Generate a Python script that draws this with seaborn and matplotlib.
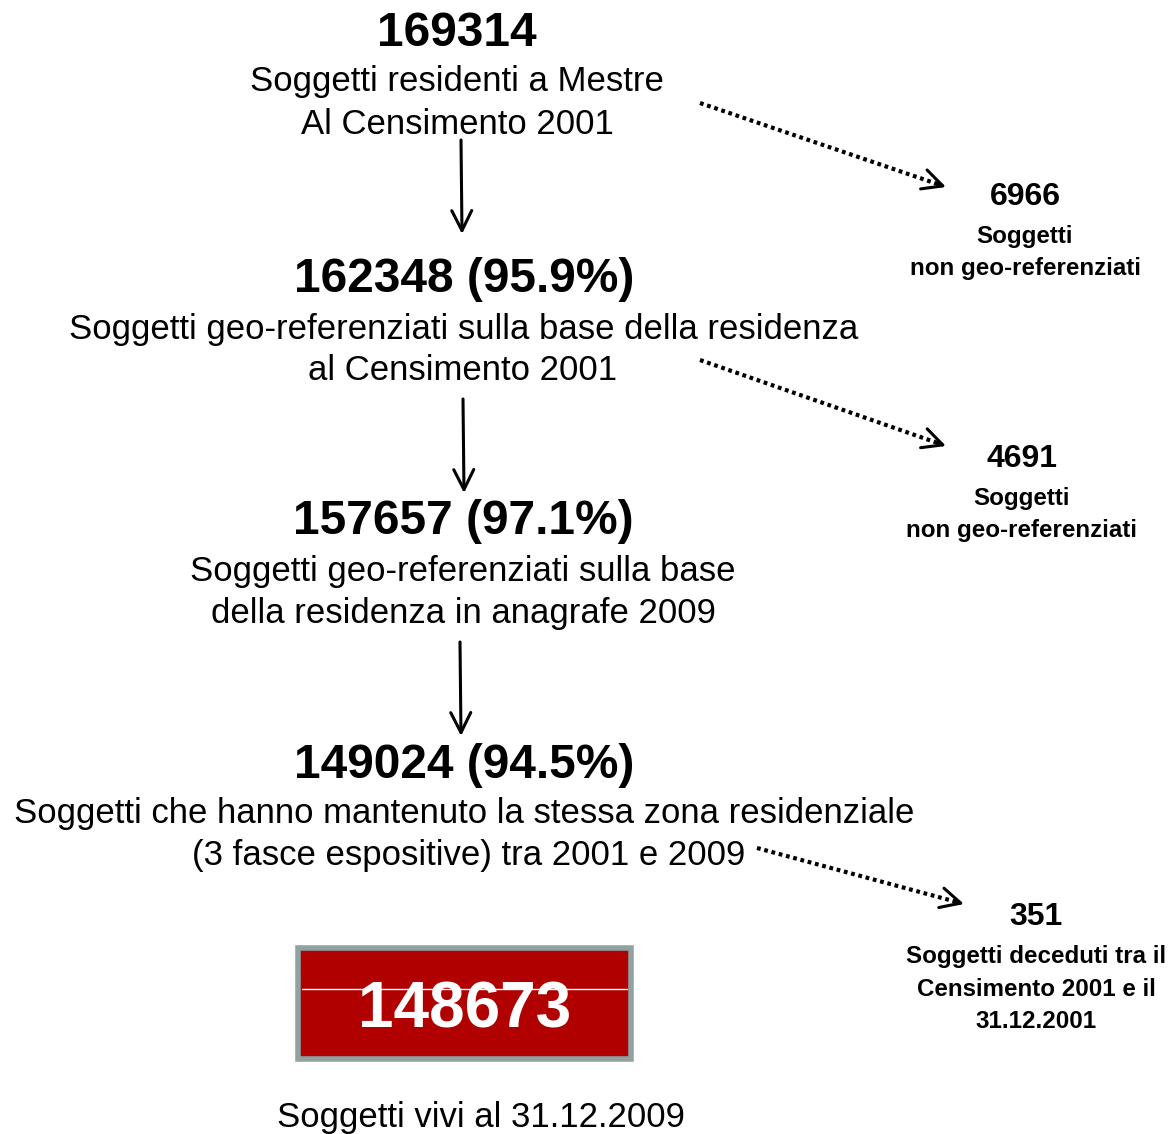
"""Flow diagram of the Mestre cohort selection."""
import matplotlib
matplotlib.use('Agg')
import matplotlib.pyplot as plt
from matplotlib.patches import Rectangle
import seaborn as sns

# steps of the selection
counts = [169314, 162348, 157657, 149024]
pcts = [None, 95.9, 97.1, 94.5]
step_lines = [
    ['Soggetti residenti a Mestre', 'Al Censimento 2001'],
    ['Soggetti geo-referenziati sulla base della residenza', 'al Censimento 2001'],
    ['Soggetti geo-referenziati sulla base', 'della residenza in anagrafe 2009'],
    ['Soggetti che hanno mantenuto la stessa zona residenziale',
     '(3 fasce espositive) tra 2001 e 2009'],
]
# excluded subjects on the right
excluded = [6966, 4691, 351]
excluded_lines = [
    ['Soggetti', 'non geo-referenziati'],
    ['Soggetti', 'non geo-referenziati'],
    ['Soggetti deceduti tra il', 'Censimento 2001 e il', '31.12.2001'],
]
final_count = 148673
final_label = 'Soggetti vivi al 31.12.2009'

sns.set_theme(style='white')
plt.rcParams['font.family'] = ['Liberation Sans', 'DejaVu Sans']

W, H = 1169, 1134
fig = plt.figure(figsize=(W / 100, H / 100), dpi=100)
ax = fig.add_axes([0, 0, 1, 1])
ax.set_xlim(0, W)
ax.set_ylim(H, 0)
ax.axis('off')

# layout (pixel positions)
step_x = [457, 464, 463, 464]
step_y = [33, 280, 522, 765]
line_x = [[457, 457], [464, 463], [463, 463], [464, 469]]
down_arrows = [((461, 140), (462, 234)), ((463, 399), (464, 493)),
               ((460, 642), (461, 736))]
exc_x = [1025, 1022, 1036]
exc_y = [197, 459, 917]
side_arrows = [((700, 103), (946, 187)), ((700, 360), (946, 446)),
               ((757, 848), (964, 904))]
head = dict(arrowstyle='->,head_length=1.2,head_width=0.6', lw=2.2,
            color='black', shrinkA=0, shrinkB=0)

for i, n in enumerate(counts):
    title = str(n) if pcts[i] is None else '%d (%.1f%%)' % (n, pcts[i])
    ax.text(step_x[i], step_y[i], title, ha='center', va='center',
            fontsize=34.5, fontweight='bold', color='black')
    for j, line in enumerate(step_lines[i]):
        ax.text(line_x[i][j], step_y[i] + 49 + 42 * j, line, ha='center',
                va='center', fontsize=25, color='black')

for (x0, y0), (x1, y1) in down_arrows:
    ax.annotate('', xy=(x1, y1), xytext=(x0, y0), arrowprops=head)

for (x0, y0), (x1, y1) in side_arrows:
    ax.plot([x0, x1 - 4], [y0, y1 - 1.4 * (y1 - y0) / (x1 - x0) * 3],
            color='black', lw=3, ls=(0, (0.9, 0.9)),
            dash_capstyle='butt')
    # solid open head at the end
    ax.annotate('', xy=(x1, y1),
                xytext=(x1 - (x1 - x0) * 0.04, y1 - (y1 - y0) * 0.04),
                arrowprops=head)

for i, n in enumerate(excluded):
    ax.text(exc_x[i], exc_y[i], str(n), ha='center', va='center',
            fontsize=23, fontweight='bold', color='black')
    for j, line in enumerate(excluded_lines[i]):
        ax.text(exc_x[i], exc_y[i] + 39 + 33 * j, line, ha='center',
                va='center', fontsize=17.4, fontweight='bold', color='black')

# final box
ax.add_patch(Rectangle((298, 948), 333, 111, facecolor='#b00000',
                       edgecolor='#8fa3a3', lw=4))
ax.plot([302, 627], [989, 989], color='white', lw=1)
ax.text(465, 1010, str(final_count), ha='center', va='center',
        fontsize=46, fontweight='bold', color='white')
ax.text(481, 1117, final_label, ha='center', va='center', fontsize=25,
        color='black')

fig.savefig('out.png', dpi=100)
